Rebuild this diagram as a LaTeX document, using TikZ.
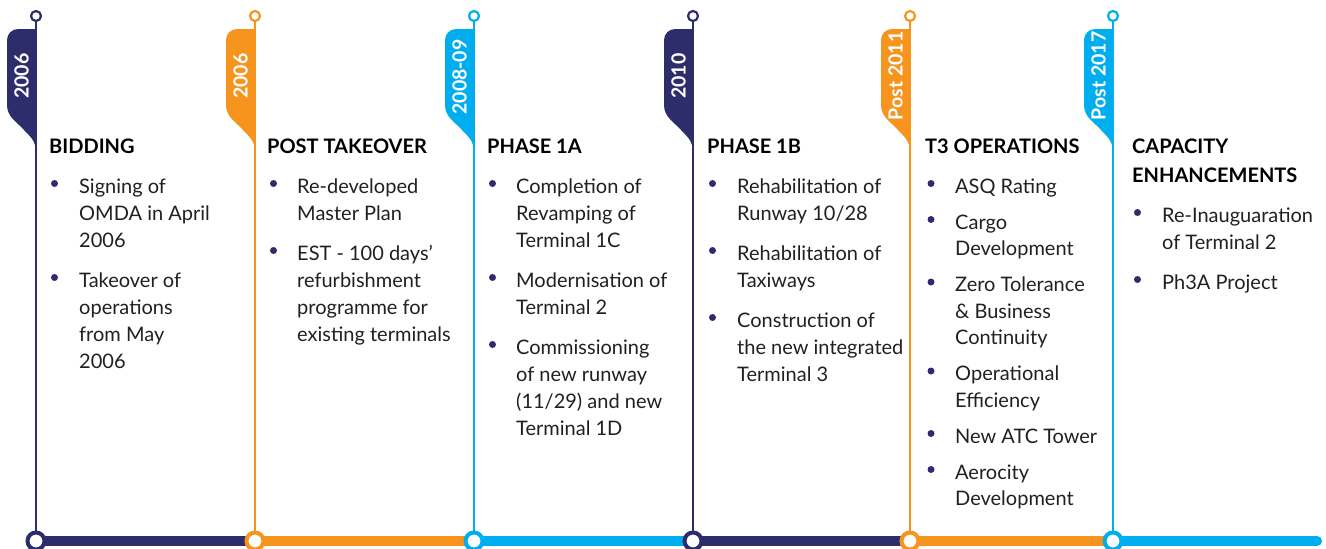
\documentclass[tikz,border=0pt]{standalone}
\usepackage{fontspec}
\setmainfont{Lato}
\definecolor{tlnavy}{HTML}{2E2D6C}
\definecolor{tlorange}{HTML}{F7941D}
\definecolor{tlcyan}{HTML}{00AEEF}
\definecolor{tltext}{HTML}{231F20}
\newcommand{\tlflag}[2]{%
 \fill[#2] (#1,29) -- ({#1-18},29) .. controls ({#1-24.1},29) and ({#1-29},33.9) .. ({#1-29},40) -- ({#1-29},105) .. controls ({#1-29},117) and ({#1-19},122) .. ({#1-12},130) .. controls ({#1-3},139) and (#1,143) .. (#1,152) -- cycle;}
\newcommand{\tldot}[2]{\fill[tlnavy] (#1,{#2-9.5}) circle[radius=3.5];}
\newcommand{\itemtext}[1]{\parbox[t]{240pt}{\raggedright\fontsize{20}{27}\selectfont #1}}
\newcommand{\itemtextb}[1]{\parbox[t]{240pt}{\raggedright\fontsize{20}{26.5}\selectfont #1}}
\begin{document}
\begin{tikzpicture}[x=1pt,y=-1pt,
 topring/.style={circle,draw=#1,fill=white,line width=2.2pt,minimum size=10pt,inner sep=0pt},
 botring/.style={circle,draw=#1,fill=white,line width=4pt,minimum size=17pt,inner sep=0pt},
 vline/.style={draw=#1,line width=2pt},
 bar/.style={draw=#1,line width=10pt},
 flagtext/.style={rotate=90,text=white,font=\fontsize{19.5}{19.5}\selectfont\bfseries,inner sep=0pt},
 heading/.style={anchor=base west,inner sep=0pt,text=black,font=\fontsize{20}{29}\selectfont\bfseries},
 item/.style={anchor=base west,inner sep=0pt,text=tltext}]
\useasboundingbox (0,0) rectangle (1326,549);
% bottom bar
\coordinate (p1) at (36,541);
\coordinate (p2) at (255,541);
\coordinate (p3) at (474,541);
\coordinate (p4) at (693,541);
\coordinate (p5) at (910,541);
\coordinate (p6) at (1113,541);
\coordinate (pend) at (1317,541);
\draw[bar=tlnavy] (p1) -- (p2);
\draw[bar=tlorange] (p2) -- (p3);
\draw[bar=tlcyan] (p3) -- (p4);
\draw[bar=tlnavy] (p4) -- (p5);
\draw[bar=tlorange] (p5) -- (p6);
\draw[bar=tlcyan,line cap=round] (p6) -- (pend);
% flags
\tlflag{36}{tlnavy}
\tlflag{255}{tlorange}
\tlflag{474}{tlcyan}
\tlflag{693}{tlnavy}
\tlflag{910}{tlorange}
\tlflag{1113}{tlcyan}
\node[flagtext] (f1) at (21.5,76) {2006};
\node[flagtext] (f2) at (240.5,76) {2006};
\node[flagtext] (f3) at (459.5,77) {2008-09};
\node[flagtext] (f4) at (678.5,76) {2010};
\node[flagtext] (f5) at (895.5,76) {Post 2011};
\node[flagtext] (f6) at (1098.5,76) {Post 2017};
% rings
\node[topring=tlnavy] (t1) at (36,16) {};
\node[topring=tlorange] (t2) at (255,16) {};
\node[topring=tlcyan] (t3) at (474,16) {};
\node[topring=tlnavy] (t4) at (693,16) {};
\node[topring=tlorange] (t5) at (910,16) {};
\node[topring=tlcyan] (t6) at (1113,16) {};
\node[botring=tlnavy] (b1) at (p1) {};
\node[botring=tlorange] (b2) at (p2) {};
\node[botring=tlcyan] (b3) at (p3) {};
\node[botring=tlnavy] (b4) at (p4) {};
\node[botring=tlorange] (b5) at (p5) {};
\node[botring=tlcyan] (b6) at (p6) {};
\draw[vline=tlnavy] (t1) -- (b1);
\draw[vline=tlorange] (t2) -- (b2);
\draw[vline=tlcyan] (t3) -- (b3);
\draw[vline=tlnavy] (t4) -- (b4);
\draw[vline=tlorange] (t5) -- (b5);
\draw[vline=tlcyan] (t6) -- (b6);
% column 1
\node[heading] (h1) at (49,153) {BIDDING};
\tldot{54.5}{193}\node[item] (c1a) at (79,193) {\itemtext{Signing of\\OMDA in April\\2006}};
\tldot{54.5}{287}\node[item] (c1b) at (79,287) {\itemtext{Takeover of\\operations\\from May\\2006}};
% column 2
\node[heading] (h2) at (267,153) {POST TAKEOVER};
\tldot{273.5}{193}\node[item] (c2a) at (297,193) {\itemtext{Re-developed\\Master Plan}};
\tldot{273.5}{260}\node[item] (c2b) at (297,260) {\itemtext{EST - 100 days’\\refurbishment\\programme for\\existing terminals}};
% column 3
\node[heading] (h3) at (487,153) {PHASE 1A};
\tldot{492.5}{193}\node[item] (c3a) at (516,193) {\itemtext{Completion of\\Revamping of\\Terminal 1C}};
\tldot{492.5}{287}\node[item] (c3b) at (516,287) {\itemtext{Modernisation of\\Terminal 2}};
\tldot{492.5}{354}\node[item] (c3c) at (516,354) {\itemtext{Commissioning\\of new runway\\(11/29) and new\\Terminal 1D}};
% column 4
\node[heading] (h4) at (707,153) {PHASE 1B};
\tldot{712.5}{193}\node[item] (c4a) at (737,193) {\itemtext{Rehabilitation of\\Runway 10/28}};
\tldot{712.5}{260}\node[item] (c4b) at (737,260) {\itemtext{Rehabilitation of\\Taxiways}};
\tldot{712.5}{327}\node[item] (c4c) at (737,327) {\itemtext{Construction of\\the new integrated\\Terminal 3}};
% column 5
\node[heading] (h5) at (925,153) {T3 OPERATIONS};
\tldot{931}{193}\node[item] (c5a) at (955,193) {\itemtextb{ASQ Rating}};
\tldot{931}{229}\node[item] (c5b) at (955,229) {\itemtextb{Cargo\\Development}};
\tldot{931}{291.5}\node[item] (c5c) at (955,291.5) {\itemtextb{Zero Tolerance\\\& Business\\Continuity}};
\tldot{931}{380.5}\node[item] (c5d) at (955,380.5) {\itemtextb{Operational\\Efficiency}};
\tldot{931}{443}\node[item] (c5e) at (955,443) {\itemtextb{New ATC Tower}};
\tldot{931}{479}\node[item] (c5f) at (955,479) {\itemtextb{Aerocity\\Development}};
% column 6
\node[heading] (h6) at (1132,153) {\parbox[t]{200pt}{\raggedright\fontsize{20}{29}\selectfont\bfseries CAPACITY\\ENHANCEMENTS}};
\tldot{1137.5}{222}\node[item] (c6a) at (1162,222) {\itemtext{Re-Inauguaration\\of Terminal 2}};
\tldot{1137.5}{289}\node[item] (c6b) at (1162,289) {\itemtext{Ph3A Project}};
\end{tikzpicture}
\end{document}
